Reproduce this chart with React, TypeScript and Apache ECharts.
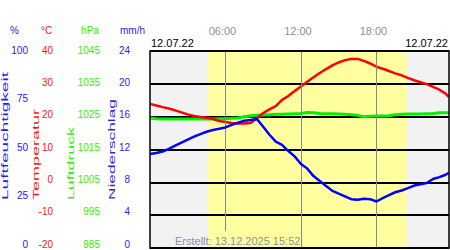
import React, { useEffect, useRef } from "react";
import * as echarts from "echarts";

// ---- data ----
const HOURS = [
  0, 0.5, 1, 1.5, 2, 2.5, 3, 3.5, 4, 4.5, 5, 5.5, 6, 6.5, 7, 7.5, 8, 8.5, 9, 9.5,
  10, 10.5, 11, 11.5, 12, 12.5, 13, 13.5, 14, 14.5, 15, 15.5, 16, 16.5, 17, 17.5,
  18, 18.5, 19, 19.5, 20, 20.5, 21, 21.5, 22, 22.5, 23, 23.5, 23.75,
];
const TEMPERATURE = [
  23.9, 23.4, 22.9, 22.5, 21.9, 21.3, 20.7, 20.2, 19.9, 19.7, 19.3, 18.7, 18.4, 18.1,
  17.9, 17.9, 18.1, 19.5, 21.1, 22.2, 23.2, 25.1, 26.3, 27.8, 29.2, 30.6, 32.0, 33.3,
  34.5, 35.6, 36.5, 37.2, 37.6, 37.6, 37.0, 36.2, 35.2, 34.6, 33.9, 33.2, 32.6, 31.8,
  31.1, 30.5, 29.9, 29.1, 28.2, 27.0, 26.0,
];
const HUMIDITY = [
  47.7, 48.2, 49.0, 50.3, 52.0, 53.5, 55.0, 56.5, 57.8, 59.0, 59.9, 60.5, 61.2, 62.5,
  63.6, 64.6, 65.0, 65.5, 61.5, 57.5, 54.0, 52.3, 49.2, 46.5, 42.6, 40.3, 36.5, 34.0,
  31.5, 29.0, 27.6, 26.2, 24.8, 24.5, 25.0, 24.8, 23.6, 25.3, 26.8, 28.3, 29.2, 30.4,
  31.7, 32.3, 33.0, 35.0, 36.0, 37.2, 38.1,
];
const PRESSURE = [
  1024.6, 1024.4, 1024.3, 1024.3, 1024.3, 1024.3, 1024.3, 1024.3, 1024.3, 1024.3,
  1024.3, 1024.4, 1024.4, 1024.5, 1024.6, 1025.0, 1025.3, 1025.4, 1025.5, 1025.6,
  1025.7, 1025.7, 1025.8, 1025.9, 1026.0, 1026.3, 1026.2, 1026.0, 1025.9, 1025.9,
  1025.8, 1025.7, 1025.6, 1025.4, 1025.0, 1025.1, 1025.2, 1025.2, 1025.3, 1025.6,
  1025.7, 1025.8, 1025.8, 1025.8, 1025.9, 1026.0, 1026.2, 1026.2, 1026.2,
];
const PRECIPITATION = [
  0, 0, 0, 0, 0, 0, 0, 0, 0, 0, 0, 0, 0, 0, 0, 0, 0, 0, 0, 0, 0, 0, 0, 0, 0, 0, 0, 0,
  0, 0, 0, 0, 0, 0, 0, 0, 0, 0, 0, 0, 0, 0, 0, 0, 0, 0, 0, 0, 0,
];

const SUNRISE = 4.6;
const SUNSET = 20.41;
const HOUR_LINES = [6, 12, 18];
const X_MAX = 23.77;

const TEMP_AXIS = { min: -20, max: 40, interval: 10 };
const HUM_AXIS = { min: 0, max: 100, interval: 25 };
const PRES_AXIS = { min: 985, max: 1045, interval: 10 };
const PREC_AXIS = { min: 0, max: 24, interval: 4 };

const DATE_LEFT = "12.07.22";
const DATE_RIGHT = "12.07.22";
const CREATED = "Erstellt: 13.12.2025 15:52";

const FONT = "Liberation Sans";

const C_HUM = "#2222ee";
const C_TEMP = "#ff1111";
const C_PRES = "#33ee00";
const C_PREC = "#3322dd";

const GRID = { left: 150, top: 51, width: 299, height: 197 };
const LABEL_GRID = { left: 150, top: 50, width: 299, height: 194 };

function measure(text: string, size: number) {
  const ctx = document.createElement("canvas").getContext("2d");
  if (!ctx) return text.length * size * 0.5;
  ctx.font = `${size}px "${FONT}"`;
  return ctx.measureText(text).width;
}

function verticalTitle(text: string, cx: number, top: number, bottom: number, color: string) {
  const size = 9;
  const w = measure(text, size);
  return {
    type: "text",
    x: cx,
    y: bottom,
    rotation: Math.PI / 2,
    scaleX: (bottom - top) / w,
    z: 20,
    style: {
      text,
      fontSize: size,
      fontFamily: FONT,
      fill: color,
      align: "left",
      verticalAlign: "middle",
    },
  };
}

function label(text: string, x: number, y: number, color: string, size: number, align = "center") {
  return {
    type: "text",
    x,
    y,
    z: 20,
    style: { text, fontSize: size, fontFamily: FONT, fill: color, align, verticalAlign: "middle" },
  };
}

export default function App() {
  const ref = useRef<HTMLDivElement>(null);
  useEffect(() => {
    if (!ref.current) return;
    const chart = echarts.init(ref.current, undefined, { renderer: "svg" });
    const pad = (h: number) => (h < 10 ? "0" + h : "" + h) + ":00";
    const hidden = {
      type: "value",
      position: "left",
      axisLine: { show: false },
      axisTick: { show: false },
      splitLine: { show: false },
      axisLabel: { show: false },
    };
    const labelAxis = (range: any, offset: number, color: string, formatter?: any) => ({
      type: "value",
      gridIndex: 1,
      position: "left",
      ...range,
      offset,
      axisLine: { show: false },
      axisTick: { show: false },
      splitLine: { show: false },
      axisLabel: { margin: 0, fontSize: 10, color, formatter },
    });
    const option: any = {
      animation: false,
      textStyle: { fontFamily: FONT },
      grid: [
        {
          ...GRID,
          show: true,
          backgroundColor: "#f2f2f2",
          borderWidth: 0,
          containLabel: false,
          outerBoundsMode: "none",
        },
        { ...LABEL_GRID, show: false, containLabel: false, outerBoundsMode: "none" },
      ],
      xAxis: [
        {
          type: "value",
          position: "top",
          min: 0,
          max: X_MAX,
          interval: 6,
          axisLine: { show: false },
          axisTick: { show: false },
          splitLine: { show: false },
          axisLabel: {
            margin: 15,
            fontSize: 11,
            color: "#8a8f9a",
            padding: [0, 6, 0, 0],
            formatter: (v: number) => (HOUR_LINES.indexOf(v) >= 0 ? pad(v) : ""),
          },
        },
        { type: "value", gridIndex: 1, min: 0, max: X_MAX, show: false },
      ],
      yAxis: [
        {
          ...hidden,
          ...TEMP_AXIS,
          z: 2,
          splitLine: { show: true, lineStyle: { color: "#000", width: 2 } },
        },
        { ...hidden, ...HUM_AXIS },
        { ...hidden, min: 0, max: PRES_AXIS.max - PRES_AXIS.min, interval: PRES_AXIS.interval },
        { ...hidden, ...PREC_AXIS },
        labelAxis(TEMP_AXIS, 97, C_TEMP),
        labelAxis(HUM_AXIS, 122, C_HUM),
        labelAxis(
          { min: 0, max: PRES_AXIS.max - PRES_AXIS.min, interval: PRES_AXIS.interval },
          50,
          C_PRES,
          (v: number) => String(v + PRES_AXIS.min)
        ),
        labelAxis(PREC_AXIS, 20, C_PREC),
      ],
      series: [
        {
          type: "line",
          data: [],
          z: 1,
          silent: true,
          markArea: {
            silent: true,
            itemStyle: { color: "#ffff9f" },
            data: [[{ xAxis: SUNRISE }, { xAxis: SUNSET }]],
          },
          markLine: {
            silent: true,
            symbol: "none",
            label: { show: false },
            lineStyle: { color: "#888888", width: 1, type: "solid" },
            data: HOUR_LINES.map((h, i) => [
              { coord: [h, TEMP_AXIS.max] },
              { coord: [h, i === 0 ? -14.8 : TEMP_AXIS.min] },
            ]),
          },
        },
        {
          type: "bar",
          yAxisIndex: 3,
          z: 3,
          data: HOURS.map((h, i) => [h, PRECIPITATION[i]]),
          itemStyle: { color: C_PREC },
          barWidth: 3,
        },
        {
          type: "line",
          yAxisIndex: 2,
          z: 3,
          symbol: "none",
          data: HOURS.map((h, i) => [h, PRESSURE[i] - PRES_AXIS.min]),
          lineStyle: { color: "#00ee00", width: 3 },
        },
        {
          type: "line",
          yAxisIndex: 0,
          z: 4,
          symbol: "none",
          data: HOURS.map((h, i) => [h, TEMPERATURE[i]]),
          lineStyle: { color: "#ff0000", width: 2.5 },
        },
        {
          type: "line",
          yAxisIndex: 1,
          z: 5,
          symbol: "none",
          data: HOURS.map((h, i) => [h, HUMIDITY[i]]),
          lineStyle: { color: "#0000ff", width: 2.5 },
        },
      ],
      graphic: [
        {
          type: "rect",
          z: 15,
          shape: { x: GRID.left, y: GRID.top, width: GRID.width, height: GRID.height },
          style: { fill: "none", stroke: "#000", lineWidth: 1.5 },
        },
        label(DATE_LEFT, 151, 43, "#000", 11, "left"),
        label(DATE_RIGHT, 448, 43, "#000", 11, "right"),
        label(CREATED, 175, 240.5, "#8990a0", 11, "left"),
        label("%", 14.5, 30.5, C_HUM, 10),
        label("°C", 46.5, 30.5, C_TEMP, 10),
        label("hPa", 90, 30.5, C_PRES, 10),
        label("mm/h", 132.5, 30.5, C_PREC, 10),
        verticalTitle("Luftfeuchtigkeit", 5.3, 72, 200, C_HUM),
        verticalTitle("Temperatur", 35.7, 109, 200, C_TEMP),
        verticalTitle("Luftdruck", 71, 127, 200, C_PRES),
        verticalTitle("Niederschlag", 112.5, 99, 200, C_PREC),
      ],
    };
    chart.setOption(option);
    return () => chart.dispose();
  }, []);
  return (
    <div
      ref={ref}
      style={{ position: "fixed", left: 0, top: 0, width: 450, height: 250, background: "#fff" }}
    />
  );
}
